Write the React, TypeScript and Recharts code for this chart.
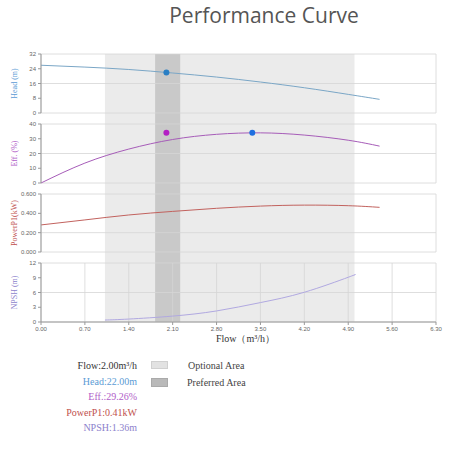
import React from 'react';
import {
  LineChart,
  Line,
  XAxis,
  YAxis,
  CartesianGrid,
  ReferenceArea,
  ReferenceDot
} from 'recharts';

const flowTicks = [0, 0.7, 1.4, 2.1, 2.8, 3.5, 4.2, 4.9, 5.6, 6.3];
const flow = [0, 0.7, 1.4, 2.1, 2.8, 3.5, 4.2, 4.9, 5.4];
const head = [25.9, 24.9, 23.6, 21.7, 19.5, 16.8, 13.7, 10.1, 7.4];
const eff = [0, 13.5, 23, 29.5, 33, 34.0, 32.5, 29, 25];
const power = [0.28, 0.332, 0.383, 0.42, 0.452, 0.475, 0.485, 0.479, 0.462];
const npshFlow = [1.02, 1.4, 2.1, 2.8, 3.5, 4.2, 4.9, 5.0];
const npsh = [0.4, 0.6, 1.2, 2.25, 3.95, 6.05, 9.1, 9.6];

const headTicks = [0, 8, 16, 24, 32];
const effTicks = [0, 10, 20, 30, 40];
const powerTicks = [0, 0.2, 0.4, 0.6];
const npshTicks = [0, 3, 6, 9, 12];

const optionalArea = [1.02, 5.0];
const preferredArea = [1.82, 2.22];

const dutyPoint = { flow: 2.0, head: 22.0, eff: 29.26, power: 0.41, npsh: 1.36 };
const effMarks = [
  { flow: 2.0, eff: 34.1, color: '#b320c4' },
  { flow: 3.37, eff: 34.1, color: '#1f6fe0' }
];

const rows = (xs: number[], ys: number[]) => xs.map((x, i) => ({ flow: x, v: ys[i] }));

const tickStyle = { fontSize: 6, fill: '#666', fontFamily: 'Liberation Sans' };
const margin = { top: 5, right: 16, bottom: 5, left: 0 };

const sideLabel = (text: string, color: string) => (props: any) => {
  const vb = props.viewBox || { y: 0, height: 0 };
  const cy = vb.y + vb.height / 2;
  return (
    <text
      x={14}
      y={cy}
      transform={`rotate(-90 14 ${cy})`}
      textAnchor="middle"
      dominantBaseline="central"
      fill={color}
      fontSize={8}
      fontFamily="Liberation Serif"
    >
      {text}
    </text>
  );
};

type PanelProps = {
  top: number;
  height: number;
  data: { flow: number; v: number }[];
  color: string;
  ticks: number[];
  label: string;
  labelColor: string;
  fmt?: (v: number) => string;
  last?: boolean;
  children?: React.ReactNode;
};

const Panel = ({ top, height, data, color, ticks, label, labelColor, fmt, last, children }: PanelProps) => (
  <div style={{ position: 'absolute', left: 0, top }}>
    <LineChart width={452} height={height} data={data} margin={{ ...margin, bottom: last ? 0 : 5 }}>
      <CartesianGrid stroke="#d6d6d6" strokeWidth={0.8} />
      <XAxis
        dataKey="flow"
        type="number"
        domain={[0, 6.3]}
        ticks={flowTicks}
        allowDataOverflow
        height={last ? 30 : 0}
        tick={last ? tickStyle : false}
        tickLine={last ? { stroke: '#999' } : false}
        axisLine={last ? { stroke: '#999' } : false}
        tickSize={3}
        tickFormatter={(v: number) => v.toFixed(2)}
        label={
          last
            ? {
                value: 'Flow（m³/h）',
                position: 'insideBottom',
                offset: 10,
                dx: 7,
                fill: '#333',
                fontSize: 10,
                fontFamily: 'Liberation Serif'
              }
            : undefined
        }
      />
      <YAxis
        width={41}
        domain={[ticks[0], ticks[ticks.length - 1]]}
        ticks={ticks}
        tick={tickStyle}
        tickSize={3}
        tickLine={{ stroke: '#999' }}
        axisLine={{ stroke: '#999' }}
        tickFormatter={fmt}
        label={{ content: sideLabel(label, labelColor) }}
      />
      <Line type="natural" dataKey="v" stroke={color} strokeWidth={1} dot={false} isAnimationActive={false} />
      {children}
    </LineChart>
  </div>
);

const legendRows = [
  { text: `Flow:${dutyPoint.flow.toFixed(2)}m³/h`, color: '#333' },
  { text: `Head:${dutyPoint.head.toFixed(2)}m`, color: '#5b9bd5' },
  { text: `Eff.:${dutyPoint.eff.toFixed(2)}%`, color: '#b05cc8' },
  { text: `PowerP1:${dutyPoint.power.toFixed(2)}kW`, color: '#c0504d' },
  { text: `NPSH:${dutyPoint.npsh.toFixed(2)}m`, color: '#8c7fcc' }
];

export default function App() {
  return (
    <div style={{ position: 'absolute', left: 0, top: 0, width: 452, height: 452, background: '#fff', fontFamily: 'Liberation Serif' }}>
      <div
        style={{
          position: 'absolute',
          top: 1,
          left: 0,
          width: 528,
          textAlign: 'center',
          fontFamily: 'Open Sans',
          fontSize: 21,
          color: '#555'
        }}
      >
        Performance Curve
      </div>

      {/* shaded areas run through all four panels */}
      <div style={{ position: 'absolute', left: 0, top: 49 }}>
        <LineChart width={452} height={278} data={rows(flow, head)} margin={{ top: 5, right: 16, bottom: 5, left: 41 }}>
          <XAxis dataKey="flow" type="number" domain={[0, 6.3]} hide />
          <YAxis hide domain={[0, 32]} />
          <ReferenceArea x1={optionalArea[0]} x2={optionalArea[1]} y1={0} y2={32} fill="#ebebeb" fillOpacity={1} stroke="none" />
          <ReferenceArea x1={preferredArea[0]} x2={preferredArea[1]} y1={0} y2={32} fill="#c9c9c9" fillOpacity={1} stroke="none" />
          <Line dataKey="v" stroke="none" dot={false} isAnimationActive={false} />
        </LineChart>
      </div>

      <Panel top={49} height={69} data={rows(flow, head)} color="#7aa6c6" ticks={headTicks} label="Head (m)" labelColor="#5b9bd5">
        <ReferenceDot x={dutyPoint.flow} y={dutyPoint.head} r={3} fill="#2a7fc4" stroke="none" />
      </Panel>
      <Panel top={119} height={69} data={rows(flow, eff)} color="#a65cb8" ticks={effTicks} label="Eff. (%)" labelColor="#b05cc8">
        {effMarks.map((m) => (
          <ReferenceDot key={m.flow} x={m.flow} y={m.eff} r={3} fill={m.color} stroke="none" />
        ))}
      </Panel>
      <Panel
        top={189}
        height={68}
        data={rows(flow, power)}
        color="#c2625e"
        ticks={powerTicks}
        label="PowerP1(kW)"
        labelColor="#c0504d"
        fmt={(v: number) => v.toFixed(3)}
      />
      <Panel
        top={258}
        height={94}
        data={rows(npshFlow, npsh)}
        color="#b0a8e0"
        ticks={npshTicks}
        label="NPSH (m)"
        labelColor="#8c7fcc"
        last
      />

      <div style={{ position: 'absolute', left: 0, top: 358, width: 137, textAlign: 'right', fontSize: 10, lineHeight: '15.5px' }}>
        {legendRows.map((r) => (
          <div key={r.text} style={{ color: r.color }}>
            {r.text}
          </div>
        ))}
      </div>
      <div style={{ position: 'absolute', left: 151, top: 361, width: 17, height: 8, background: '#e2e2e2', border: '1px solid #d0d0d0', boxSizing: 'border-box' }} />
      <div style={{ position: 'absolute', left: 151, top: 378, width: 17, height: 9, background: '#b9b9b9', border: '1px solid #aaa', boxSizing: 'border-box' }} />
      <div style={{ position: 'absolute', left: 188, top: 358, fontSize: 10, color: '#444', lineHeight: '15px' }}>Optional Area</div>
      <div style={{ position: 'absolute', left: 187, top: 375, fontSize: 10, color: '#444', lineHeight: '15px' }}>Preferred Area</div>
    </div>
  );
}
